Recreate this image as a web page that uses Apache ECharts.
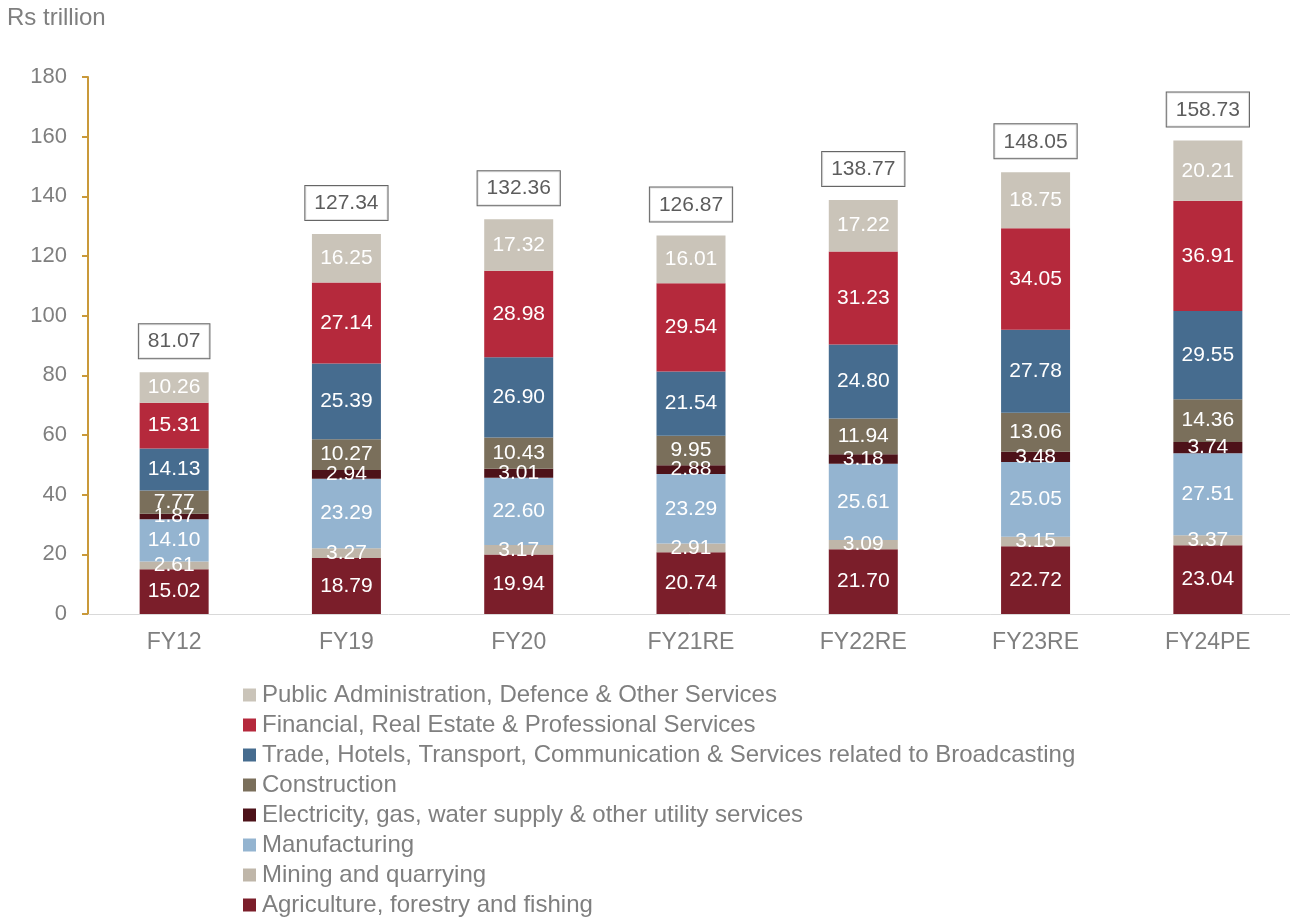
<!DOCTYPE html>
<html>
<head>
<meta charset="utf-8">
<title>GVA by sector</title>
<script src="https://cdn.jsdelivr.net/npm/echarts@6/dist/echarts.min.js"></script>
<style>
  html, body { margin: 0; padding: 0; background: #fff; }
  #chart { width: 1290px; height: 919px; }
</style>
</head>
<body>
<div id="chart"></div>
<script>
// Fiscal years on the category axis
const years = ['FY12', 'FY19', 'FY20', 'FY21RE', 'FY22RE', 'FY23RE', 'FY24PE'];

// Sector values, Rs trillion (bottom of stack first)
const agriculture   = [15.02, 18.79, 19.94, 20.74, 21.70, 22.72, 23.04];
const mining        = [2.61, 3.27, 3.17, 2.91, 3.09, 3.15, 3.37];
const manufacturing = [14.10, 23.29, 22.60, 23.29, 25.61, 25.05, 27.51];
const electricity   = [1.87, 2.94, 3.01, 2.88, 3.18, 3.48, 3.74];
const construction  = [7.77, 10.27, 10.43, 9.95, 11.94, 13.06, 14.36];
const trade         = [14.13, 25.39, 26.90, 21.54, 24.80, 27.78, 29.55];
const financial     = [15.31, 27.14, 28.98, 29.54, 31.23, 34.05, 36.91];
const publicAdmin   = [10.26, 16.25, 17.32, 16.01, 17.22, 18.75, 20.21];

// Totals shown in boxes above each column
const totals = [81.07, 127.34, 132.36, 126.87, 138.77, 148.05, 158.73];

// Y axis ticks
const yTicks = [0, 20, 40, 60, 80, 100, 120, 140, 160, 180];

const sectors = [
  { name: 'Agriculture, forestry and fishing', data: agriculture, color: '#7B1E2A' },
  { name: 'Mining and quarrying', data: mining, color: '#BFB6A9' },
  { name: 'Manufacturing', data: manufacturing, color: '#94B4D0' },
  { name: 'Electricity, gas, water supply & other utility services', data: electricity, color: '#4D1219' },
  { name: 'Construction', data: construction, color: '#7A6F5B' },
  { name: 'Trade, Hotels, Transport, Communication & Services related to Broadcasting', data: trade, color: '#466C8F' },
  { name: 'Financial, Real Estate & Professional Services', data: financial, color: '#B5293C' },
  { name: 'Public Administration, Defence & Other Services', data: publicAdmin, color: '#CAC4B9' }
];

const font = 'Liberation Sans, Arial, sans-serif';
const grey = '#7F7F7F';

const barSeries = sectors.map(s => ({
  name: s.name,
  type: 'bar',
  stack: 'gva',
  barWidth: 69,
  data: s.data,
  itemStyle: { color: s.color },
  label: {
    show: true,
    position: 'inside',
    color: '#ffffff',
    fontFamily: font,
    fontSize: 21,
    formatter: p => p.value.toFixed(2)
  },
  emphasis: { disabled: true }
}));

// Boxed totals sit just above each stacked column
const totalSeries = {
  name: 'Total',
  type: 'scatter',
  data: totals,
  symbolSize: 0,
  itemStyle: { color: 'transparent' },
  label: {
    show: true,
    position: 'top',
    distance: 14,
    color: '#333333',
    fontFamily: font,
    fontSize: 21,
    lineHeight: 21,
    backgroundColor: '#ffffff',
    borderColor: '#404040',
    borderWidth: 1,
    padding: [7, 9, 6, 9],
    formatter: p => p.value.toFixed(2)
  },
  silent: true
};

const chart = echarts.init(document.getElementById('chart'));
chart.setOption({
  animation: false,
  title: {
    text: 'Rs trillion',
    left: 7,
    top: 6,
    padding: 0,
    textStyle: { color: grey, fontFamily: font, fontSize: 24, fontWeight: 'normal' }
  },
  legend: {
    orient: 'vertical',
    left: 243,
    top: 683,
    height: 300,
    padding: 0,
    itemWidth: 13,
    itemHeight: 13,
    itemGap: 6,
    itemStyle: { borderWidth: 0 },
    icon: 'rect',
    data: sectors.map(s => s.name).reverse(),
    textStyle: { color: grey, fontFamily: font, fontSize: 24, lineHeight: 24, padding: [0, 0, 0, 1] }
  },
  grid: { left: 88, top: 77, width: 1206, height: 537, containLabel: false, outerBoundsMode: 'none' },
  xAxis: {
    type: 'category',
    data: years,
    axisLine: { lineStyle: { color: '#D9D9D9', width: 1 } },
    axisTick: { show: false },
    axisLabel: { color: grey, fontFamily: font, fontSize: 23, margin: 17 }
  },
  yAxis: {
    type: 'value',
    min: yTicks[0],
    max: yTicks[yTicks.length - 1],
    interval: 20,
    splitLine: { show: false },
    axisLine: { show: true, lineStyle: { color: '#C9993A', width: 2 } },
    axisTick: { show: true, length: 6, lineStyle: { color: '#C9993A', width: 2 } },
    axisLabel: { color: grey, fontFamily: font, fontSize: 22, margin: 21 }
  },
  series: [...barSeries, totalSeries]
});
</script>
</body>
</html>
